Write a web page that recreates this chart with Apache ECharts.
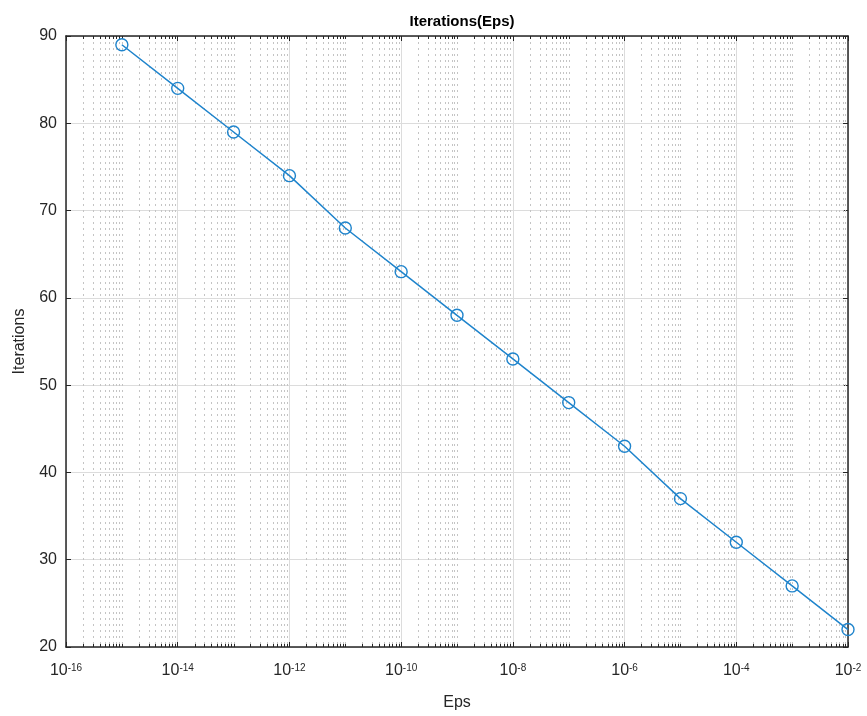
<!DOCTYPE html>
<html>
<head>
<meta charset="utf-8">
<script src="https://cdn.jsdelivr.net/npm/echarts@6/dist/echarts.min.js"></script>
<style>
  html, body { margin: 0; padding: 0; background: #fff; }
  #chart { width: 867px; height: 716px; }
</style>
</head>
<body>
<div id="chart"></div>
<script>
// eps as powers of ten, iterations
var epsExp = [-15, -14, -13, -12, -11, -10, -9, -8, -7, -6, -5, -4, -3, -2];
var iterations = [89, 84, 79, 74, 68, 63, 58, 53, 48, 43, 37, 32, 27, 22];
var xMinExp = -16, xMaxExp = -2;
var yMin = 20, yMax = 90;

var font = '"Liberation Sans", Arial, sans-serif';
var ink = '#262626';

// minor grid positions (log10 of k*10^n), plus the odd decades which get no major line
var minorX = [];
for (var n = xMinExp; n < xMaxExp; n++) {
  for (var k = 1; k <= 9; k++) {
    if (k === 1 && n % 2 === 0) continue;
    minorX.push([n + Math.log10(k)]);
  }
}

var chart = echarts.init(document.getElementById('chart'));

var tickLabel = {
  color: ink,
  fontFamily: font,
  margin: 16,
  formatter: function (v) { return '{b|10}{s|' + v + '}'; },
  rich: {
    b: { fontSize: 16, lineHeight: 16, verticalAlign: 'bottom', color: ink, fontFamily: font },
    s: { fontSize: 10, lineHeight: 10, verticalAlign: 'top', color: ink, fontFamily: font }
  }
};

chart.setOption({
  animation: false,
  title: {
    text: 'Iterations(Eps)',
    left: 457, top: 9, textAlign: 'center',
    textStyle: { fontFamily: font, fontSize: 15, fontWeight: 'bold', color: '#000' }
  },
  grid: { left: 66, right: 19, top: 36, bottom: 62, containLabel: false },
  xAxis: [{
    type: 'value', min: xMinExp, max: xMaxExp, interval: 2,
    name: 'Eps', nameLocation: 'middle', nameGap: 48,
    nameTextStyle: { fontFamily: font, fontSize: 16, color: ink },
    axisLine: { lineStyle: { color: ink, width: 1.5 } },
    axisTick: { inside: true, length: 5, lineStyle: { color: ink } },
    axisLabel: tickLabel,
    splitLine: { show: true, lineStyle: { color: '#dcdcdc', width: 1 } }
  }, {
    type: 'value', position: 'top', min: xMinExp, max: xMaxExp, interval: 2,
    axisLine: { lineStyle: { color: ink, width: 1.5 } },
    axisTick: { inside: true, length: 5, lineStyle: { color: ink } },
    axisLabel: { show: false }, splitLine: { show: false }
  }],
  yAxis: [{
    type: 'value', min: yMin, max: yMax, interval: 10,
    name: 'Iterations', nameLocation: 'middle', nameGap: 38, nameRotate: 90,
    nameTextStyle: { fontFamily: font, fontSize: 16, color: ink },
    axisLine: { show: true, lineStyle: { color: ink, width: 1.5 } },
    axisTick: { show: true, inside: true, length: 5, lineStyle: { color: ink } },
    axisLabel: { color: ink, fontFamily: font, fontSize: 16, margin: 9 },
    splitLine: { show: true, lineStyle: { color: '#dcdcdc', width: 1 } }
  }, {
    type: 'value', position: 'right', min: yMin, max: yMax, interval: 10,
    axisLine: { show: true, lineStyle: { color: ink, width: 1.5 } },
    axisTick: { show: true, inside: true, length: 5, lineStyle: { color: ink } },
    axisLabel: { show: false }, splitLine: { show: false }
  }],
  series: [{
    type: 'custom',
    silent: true,
    z: 1,
    data: minorX,
    encode: { x: 0 },
    renderItem: function (params, api) {
      var x = api.value(0);
      var top = api.coord([x, yMax]);
      var bot = api.coord([x, yMin]);
      var px = Math.round(top[0]) + 0.5;
      return {
        type: 'group',
        children: [{
          type: 'line',
          shape: { x1: px, y1: top[1], x2: px, y2: bot[1] },
          style: { stroke: '#c4c4c4', lineWidth: 1, lineDash: [2, 4] }
        }, {
          type: 'line',
          shape: { x1: px, y1: top[1], x2: px, y2: top[1] + 3 },
          style: { stroke: ink, lineWidth: 1 }
        }, {
          type: 'line',
          shape: { x1: px, y1: bot[1], x2: px, y2: bot[1] - 3 },
          style: { stroke: ink, lineWidth: 1 }
        }]
      };
    }
  }, {
    type: 'line',
    z: 3,
    data: epsExp.map(function (e, i) { return [e, iterations[i]]; }),
    symbol: 'circle',
    symbolSize: 12,
    lineStyle: { color: '#1f84cc', width: 1.5 },
    itemStyle: { color: 'rgba(0,0,0,0)', borderColor: '#1f84cc', borderWidth: 1.4 }
  }]
});
</script>
</body>
</html>
